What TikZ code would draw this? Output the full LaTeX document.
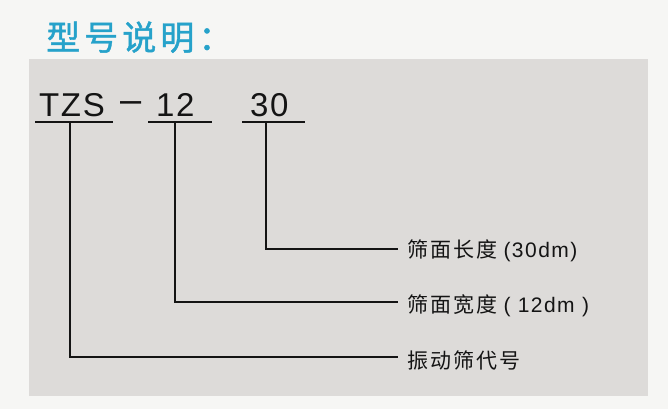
\documentclass[tikz,border=0pt]{standalone}
\usepackage{fontspec}
\setmainfont{Liberation Sans}
\newfontfamily\cjk[LetterSpace=10]{Noto Sans CJK SC}
\newfontfamily\cjktitle[LetterSpace=12,FakeBold=1.2]{Noto Sans CJK SC}
\newfontfamily\latls[LetterSpace=7]{Liberation Sans}
\newfontfamily\codefont[LetterSpace=5]{Liberation Sans}
\definecolor{bgcol}{RGB}{246,246,244}
\definecolor{panelcol}{RGB}{221,219,217}
\definecolor{titlecol}{RGB}{38,162,202}
\definecolor{inkcol}{RGB}{20,20,20}
\tikzset{
  codetext/.style={anchor=base west, inner sep=0pt, text=inkcol, font=\codefont\fontsize{33}{33}\selectfont},
  labeltext/.style={anchor=base west, inner sep=0pt, text=inkcol, font=\fontsize{21}{21}\selectfont},
  leader/.style={draw=inkcol, line width=1.3pt},
}
\begin{document}
\begin{tikzpicture}[x=1pt,y=-1pt]
\fill[bgcol] (0,0) rectangle (668,409);
\useasboundingbox (0,0) rectangle (668,409);
\fill[panelcol] (29,59) rectangle (648,396);
\node[anchor=base west, inner sep=0pt, text=titlecol, font=\cjktitle\fontsize{34}{34}\selectfont] (title) at (46,50) {型号说明：};
% code
\node[codetext] (tzs) at (39,116) {TZS};
\node[codetext] (dash) at (120,112) {\fontsize{38}{38}\selectfont –};
\node[codetext] (w) at (156,116) {12};
\node[codetext] (l) at (250,116) {30};
% underlines
\coordinate (a1) at (35,122);  \coordinate (b1) at (113,122);
\coordinate (a2) at (148,122); \coordinate (b2) at (212,122);
\coordinate (a3) at (242,122); \coordinate (b3) at (305,122);
\draw[leader] (a1) -- (b1);
\draw[leader] (a2) -- (b2);
\draw[leader] (a3) -- (b3);
\coordinate (u1) at (70,122);
\coordinate (u2) at (175,122);
\coordinate (u3) at (266,122);
% labels
\node[labeltext] (lab1) at (407,257) {{\cjk 筛面长度}\hspace{6pt}{\latls (30dm)}};
\node[labeltext] (lab2) at (407,312) {{\cjk 筛面宽度}\hspace{6pt}{\latls ( 12dm )}};
\node[labeltext] (lab3) at (407,368) {{\cjk 振动筛代号}};
\coordinate (e1) at (398,249);
\coordinate (e2) at (398,302);
\coordinate (e3) at (398,357);
\draw[leader] (u3) |- (e1);
\draw[leader] (u2) |- (e2);
\draw[leader] (u1) |- (e3);
\end{tikzpicture}
\end{document}
